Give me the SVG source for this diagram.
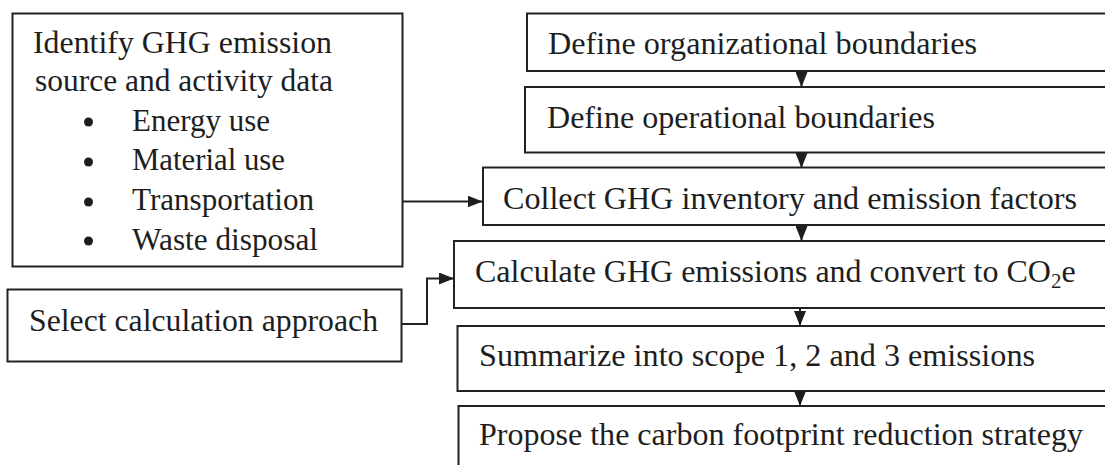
<svg xmlns="http://www.w3.org/2000/svg" width="1105" height="465" viewBox="0 0 1105 465">
<style>
.box{fill:#fff;stroke:#222;stroke-width:2}
.t{font-family:'Liberation Serif','Tinos','Times New Roman','DejaVu Serif',serif;font-size:32px;fill:#1e1e1e}
.c{fill:none;stroke:#222;stroke-width:2}
.dot{fill:#1e1e1e}
</style>
<defs>
<marker id="ah" markerUnits="userSpaceOnUse" markerWidth="15" markerHeight="12" refX="15" refY="6" orient="auto" viewBox="0 0 15 12">
<path d="M0,0 L15,6 L0,12 z" fill="#1e1e1e"/>
</marker>
</defs>
<rect width="1105" height="465" fill="#fff"/>
<g id="identify">
<rect class="box" x="12.5" y="13.5" width="390" height="253"/>
<text class="t" x="33" y="53" textLength="299" lengthAdjust="spacingAndGlyphs">Identify GHG emission</text>
<text class="t" x="35" y="90.5" textLength="298" lengthAdjust="spacingAndGlyphs">source and activity data</text>
<circle class="dot" cx="88.5" cy="122" r="4.5"/>
<circle class="dot" cx="88.5" cy="162" r="4.5"/>
<circle class="dot" cx="88.5" cy="202" r="4.5"/>
<circle class="dot" cx="88.5" cy="241" r="4.5"/>
<text class="t" x="132" y="130.5" textLength="138" lengthAdjust="spacingAndGlyphs">Energy use</text>
<text class="t" x="132" y="170" textLength="153" lengthAdjust="spacingAndGlyphs">Material use</text>
<text class="t" x="132" y="210" textLength="182" lengthAdjust="spacingAndGlyphs">Transportation</text>
<text class="t" x="132" y="249.5" textLength="186" lengthAdjust="spacingAndGlyphs">Waste disposal</text>
</g>
<g id="select">
<rect class="box" x="7.5" y="289.5" width="394" height="72"/>
<text class="t" x="29" y="331" textLength="349" lengthAdjust="spacingAndGlyphs">Select calculation approach</text>
</g>
<g id="org">
<rect class="box" x="527" y="13.5" width="590" height="57.5"/>
<text class="t" x="548" y="53.5" textLength="429" lengthAdjust="spacingAndGlyphs">Define organizational boundaries</text>
</g>
<g id="oper">
<rect class="box" x="525" y="87" width="590" height="65.5"/>
<text class="t" x="547" y="127.5" textLength="388" lengthAdjust="spacingAndGlyphs">Define operational boundaries</text>
</g>
<g id="collect">
<rect class="box" x="483" y="167.5" width="630" height="57.5"/>
<text class="t" x="503" y="208.5" textLength="574" lengthAdjust="spacingAndGlyphs">Collect GHG inventory and emission factors</text>
</g>
<g id="calculate">
<rect class="box" x="454" y="241" width="660" height="67"/>
<text class="t" x="475" y="282">Calculate GHG emissions and convert to CO<tspan font-size="21" dy="6">2</tspan><tspan dy="-6">e</tspan></text>
</g>
<g id="summarize">
<rect class="box" x="457.5" y="326" width="660" height="65"/>
<text class="t" x="479" y="366" textLength="556" lengthAdjust="spacingAndGlyphs">Summarize into scope 1, 2 and 3 emissions</text>
</g>
<g id="propose">
<rect class="box" x="458.5" y="406" width="660" height="80"/>
<text class="t" x="479" y="445" textLength="604" lengthAdjust="spacingAndGlyphs">Propose the carbon footprint reduction strategy</text>
</g>
<g id="connectors">
<path class="c" d="M801.5,71 V87" marker-end="url(#ah)"/>
<path class="c" d="M801.5,152.5 V168" marker-end="url(#ah)"/>
<path class="c" d="M801.5,225 V241" marker-end="url(#ah)"/>
<path class="c" d="M800,308 V326" marker-end="url(#ah)"/>
<path class="c" d="M800,391 V406" marker-end="url(#ah)"/>
<path class="c" d="M402.5,201.5 H482.5" marker-end="url(#ah)"/>
<path class="c" d="M401.5,324 H427 V278.5 H454" marker-end="url(#ah)"/>
</g>
</svg>
